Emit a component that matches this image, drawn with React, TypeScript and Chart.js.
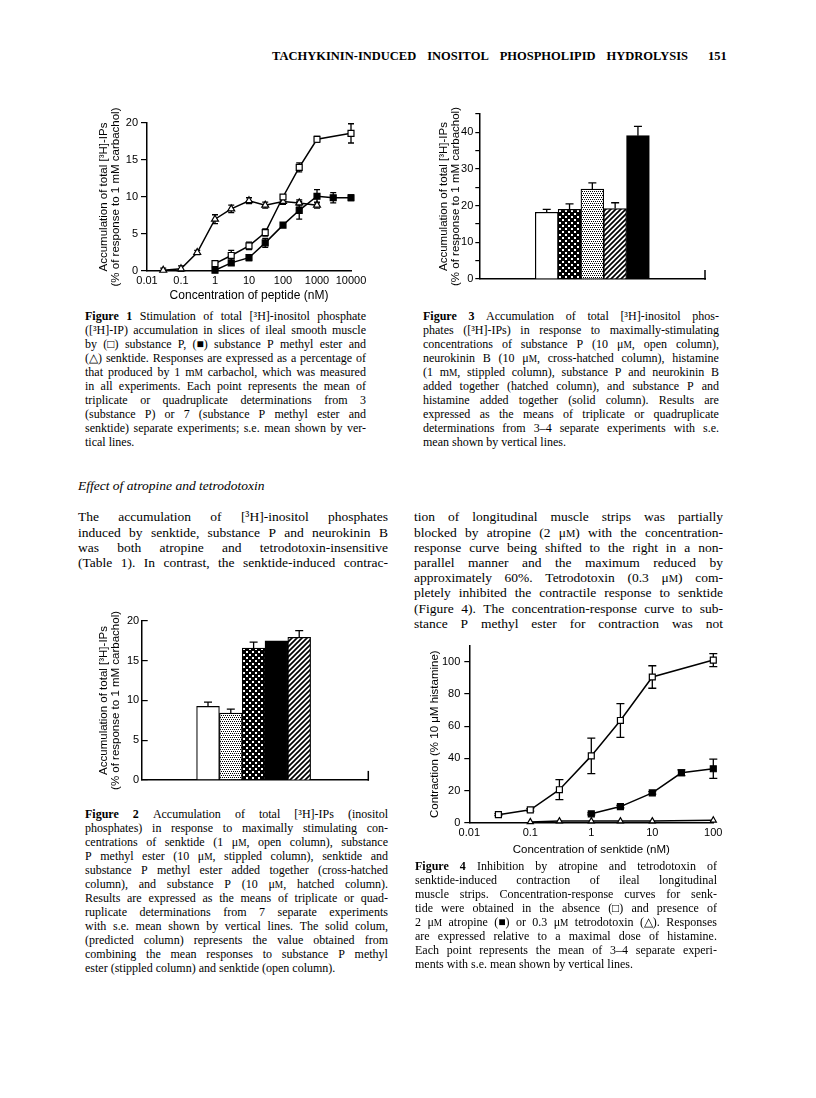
import React, { useEffect, useRef } from 'react';
import { Chart, registerables } from 'chart.js';

const SANS = '"Liberation Sans", Arial, Helvetica, sans-serif';
const SERIF = '"Liberation Serif", "Times New Roman", serif';

Chart.register(...registerables);
Chart.defaults.color = '#000';
Chart.defaults.font.family = SANS;

// ---------------- Figure 1 data ----------------
const fig1XTicks = [0.01, 0.1, 1, 10, 100, 1000, 10000];
const fig1XLabels = ['0.01', '0.1', '1', '10', '100', '1000', '10000'];
const fig1YTicks = [0, 5, 10, 15, 20];
const fig1SpConc = [1, 3, 10, 30, 100, 300, 1000, 10000];
const fig1SpMean = [1.0, 2.1, 3.4, 5.2, 10.0, 14.0, 17.8, 18.6];
const fig1SpSem = [0.2, 0.7, 0.5, 0.5, 0.3, 0.6, 0.4, 1.3];
const fig1SpmeConc = [1, 3, 10, 30, 100, 300, 1000, 3000, 10000];
const fig1SpmeMean = [0.1, 1.1, 1.8, 3.8, 6.2, 8.2, 10.1, 9.9, 9.9];
const fig1SpmeSem = [0.1, 0.3, 0.4, 0.6, 0.3, 1.2, 0.9, 0.7, 0.4];
const fig1SenkConc = [0.03, 0.1, 0.3, 1, 3, 10, 30, 100, 300, 1000];
const fig1SenkMean = [0.1, 0.3, 2.5, 7.0, 8.4, 9.5, 8.9, 9.4, 9.2, 8.9];
const fig1SenkSem = [0.3, 0.4, 0.3, 0.6, 0.5, 0.4, 0.4, 0.4, 0.4, 0.4];

// ---------------- Figure 2 data ----------------
const fig2Groups = ['Senktide', 'SP methyl ester', 'Senktide + SP methyl ester', 'Predicted', 'Substance P'];
const fig2Means = [9.25, 8.4, 16.6, 17.5, 17.95];
const fig2Sems = [0.55, 0.5, 0.75, 0, 0.85];
const fig2Fills = ['open', 'stippled', 'cross', 'solid', 'hatched'];
const fig2YTicks = [0, 5, 10, 15, 20];

// ---------------- Figure 3 data ----------------
const fig3Groups = ['Substance P', 'Neurokinin B', 'Histamine', 'SP + NKB', 'SP + histamine'];
const fig3Means = [18.2, 19.0, 24.5, 19.2, 39.1];
const fig3Sems = [0.8, 1.5, 1.7, 1.6, 2.5];
const fig3Fills = ['open', 'cross', 'stippled', 'hatched', 'solid'];
const fig3YTicks = [0, 5, 10, 15, 20, 25, 30, 35, 40, 45];

// ---------------- Figure 4 data ----------------
const fig4XTicks = [0.01, 0.1, 1, 10, 100];
const fig4XLabels = ['0.01', '0.1', '1', '10', '100'];
const fig4YTicks = [0, 20, 40, 60, 80, 100];
const fig4CtrlConc = [0.03, 0.1, 0.3, 1, 3, 10, 100];
const fig4CtrlMean = [5, 8, 20.5, 41.5, 63.5, 90.5, 101];
const fig4CtrlSem = [0.6, 0.8, 6.2, 11, 10.5, 7, 4];
const fig4AtrConc = [1, 3, 10, 30, 100];
const fig4AtrMean = [5.5, 10, 18.5, 31, 33.5];
const fig4AtrSem = [0.6, 0.8, 0.8, 1.8, 6];
const fig4TtxConc = [0.1, 0.3, 1, 3, 10, 100];
const fig4TtxMean = [0.5, 1, 1, 1, 1, 1.5];

// ---------------- plugins ----------------
function drawErr(chart: any, type: string) {
  if (chart.config.type !== type) return;
  const ctx = chart.ctx;
  chart.data.datasets.forEach((ds: any, i: number) => {
    const errs = ds.errors;
    if (!errs) return;
    const meta = chart.getDatasetMeta(i);
    const ys = chart.scales[meta.yAxisID];
    const cap = ds.capHalf ?? 3;
    ctx.save();
    ctx.strokeStyle = '#000';
    ctx.lineWidth = 1.3;
    meta.data.forEach((el: any, j: number) => {
      const e = errs[j];
      if (!e) return;
      const raw = ds.data[j];
      const v = typeof raw === 'object' ? raw.y : raw;
      const top = ys.getPixelForValue(v + e);
      const bot = type === 'bar' ? el.y : ys.getPixelForValue(Math.max(v - e, 0));
      ctx.beginPath();
      ctx.moveTo(el.x, top);
      ctx.lineTo(el.x, bot);
      ctx.moveTo(el.x - cap, top);
      ctx.lineTo(el.x + cap, top);
      if (type !== 'bar') {
        ctx.moveTo(el.x - cap, bot);
        ctx.lineTo(el.x + cap, bot);
      }
      ctx.stroke();
    });
    ctx.restore();
  });
}

const errorBars = {
  id: 'errorBars',
  beforeDatasetsDraw(chart: any) { drawErr(chart, 'line'); },
  afterDatasetsDraw(chart: any) { drawErr(chart, 'bar'); },
};

const endTick = {
  id: 'endTick',
  afterDraw(chart: any, _args: any, opts: any) {
    if (!opts || !opts.length) return;
    const { right, bottom } = chart.chartArea;
    const ctx = chart.ctx;
    ctx.save();
    ctx.strokeStyle = '#000';
    ctx.lineWidth = 1.5;
    ctx.beginPath();
    ctx.moveTo(right, bottom + 0.75);
    ctx.lineTo(right, bottom - opts.length);
    ctx.stroke();
    ctx.restore();
  },
};

function makePattern(kind: string): any {
  if (kind === 'open') return '#fff';
  if (kind === 'solid') return '#000';
  const c = document.createElement('canvas');
  const g = c.getContext('2d')!;
  if (kind === 'cross') {
    c.width = 6; c.height = 6;
    g.fillStyle = '#000'; g.fillRect(0, 0, 6, 6);
    g.fillStyle = '#fff'; g.fillRect(1, 1, 2, 2); g.fillRect(4, 4, 2, 2);
  } else if (kind === 'stippled') {
    c.width = 4; c.height = 4;
    g.fillStyle = '#fff'; g.fillRect(0, 0, 4, 4);
    g.fillStyle = '#000';
    g.fillRect(0, 0, 1, 1); g.fillRect(2, 0, 1, 1);
    g.fillRect(1, 2, 1, 1); g.fillRect(3, 2, 1, 1);
  } else if (kind === 'hatched') {
    c.width = 5; c.height = 5;
    g.fillStyle = '#fff'; g.fillRect(0, 0, 5, 5);
    g.strokeStyle = '#000'; g.lineWidth = 1.7;
    g.beginPath();
    g.moveTo(0, 5); g.lineTo(5, 0);
    g.moveTo(-1, 1); g.lineTo(1, -1);
    g.moveTo(4, 6); g.lineTo(6, 4);
    g.stroke();
  }
  return g.createPattern(c, 'repeat');
}

function lineDs(label: string, xs: number[], ys: number[], errs: number[] | null, style: string, fill: string, r: number, capHalf: number) {
  return {
    label,
    data: xs.map((x, i) => ({ x, y: ys[i] })),
    errors: errs,
    capHalf,
    borderColor: '#000',
    borderWidth: 1.5,
    pointStyle: style,
    pointRadius: r,
    pointBackgroundColor: fill,
    pointBorderColor: '#000',
    pointBorderWidth: 1.2,
    clip: false,
    tension: 0,
    fill: false,
  };
}

const tickFont = { family: SANS, size: 11 };
const blackBorder = { display: true, color: '#000', width: 1.5 };

function yTitle(text: any, size: number, padTop: number) {
  return { display: true, text, color: '#000', font: { family: SANS, size, lineHeight: 1.05 }, padding: { top: padTop, bottom: 0 } };
}

function baseOptions(padding: any) {
  return {
    responsive: false,
    animation: false,
    events: [],
    layout: { padding },
    plugins: { legend: { display: false }, tooltip: { enabled: false } },
  };
}

function makeFig1() {
  return {
    type: 'line',
    data: {
      datasets: [
        lineDs('Substance P', fig1SpConc, fig1SpMean, fig1SpSem, 'rect', '#fff', 4.2, 3),
        lineDs('Substance P methyl ester', fig1SpmeConc, fig1SpmeMean, fig1SpmeSem, 'rect', '#000', 4.2, 3),
        lineDs('Senktide', fig1SenkConc, fig1SenkMean, fig1SenkSem, 'triangle', '#fff', 4, 3),
      ],
    },
    options: {
      ...baseOptions({ top: 28, right: 19, left: 0, bottom: 0 }),
      scales: {
        x: {
          type: 'logarithmic', min: 0.01, max: 10000,
          afterBuildTicks: (s: any) => { s.ticks = fig1XTicks.map((value) => ({ value })); },
          afterFit: (s: any) => { s.height = 32; },
          grid: { display: false, drawTicks: false },
          border: blackBorder,
          ticks: { color: '#000', font: tickFont, padding: 3, maxRotation: 0, autoSkip: false, callback: (_v: any, i: number) => fig1XLabels[i] },
          title: { display: true, text: 'Concentration of peptide (nM)', color: '#000', font: { family: SANS, size: 12, lineHeight: 1.2 }, padding: { top: 0, bottom: 0 } },
        },
        y: {
          min: 0, max: 20,
          afterBuildTicks: (s: any) => { s.ticks = fig1YTicks.map((value) => ({ value })); },
          afterFit: (s: any) => { s.width = 67; },
          grid: { display: true, drawOnChartArea: false, drawTicks: true, tickLength: 6, color: '#000', lineWidth: 1.2 },
          border: blackBorder,
          ticks: { color: '#000', font: tickFont, padding: 3 },
          title: yTitle(['Accumulation of total [³H]-IPs', '(% of response to 1 mM carbachol)'], 11.5, 18),
        },
      },
    },
    plugins: [errorBars],
  };
}

function barConfig(groups: string[], means: number[], sems: number[], fills: string[], yTicks: number[], opt: any) {
  return {
    type: 'bar',
    data: {
      datasets: [{
        label: 'mean',
        data: means.map((y, i) => ({ x: i + 1, y, name: groups[i] })),
        errors: sems,
        capHalf: 4,
        backgroundColor: fills.map(makePattern),
        borderColor: '#000',
        borderWidth: 1.2,
        barPercentage: 1,
        categoryPercentage: 1,
      }],
    },
    options: {
      ...baseOptions(opt.padding),
      scales: {
        x: {
          type: 'linear', min: opt.xMin, max: opt.xMax, offset: false,
          afterFit: (s: any) => { s.height = opt.xHeight; },
          grid: { display: false, drawTicks: false, offset: false },
          border: blackBorder,
          ticks: { display: false },
        },
        y: {
          min: 0, max: opt.yMax,
          afterBuildTicks: (s: any) => { s.ticks = yTicks.map((value) => ({ value })); },
          afterFit: (s: any) => { s.width = opt.yWidth; },
          grid: { display: true, drawOnChartArea: false, drawTicks: true, tickLength: opt.tickLength, color: '#000', lineWidth: 1.2 },
          border: blackBorder,
          ticks: { color: '#000', font: tickFont, padding: opt.tickPad, callback: (v: any) => (v % opt.labelEvery === 0 ? String(v) : '') },
          title: yTitle(['Accumulation of total [³H]-IPs', '(% of response to 1 mM carbachol)'], 11.5, opt.titlePad),
        },
      },
      plugins: { legend: { display: false }, tooltip: { enabled: false }, endTick: { length: 9 } },
    },
    plugins: [errorBars, endTick],
  };
}

function makeFig2() {
  return barConfig(fig2Groups, fig2Means, fig2Sems, fig2Fills, fig2YTicks, {
    padding: { top: 16, right: 11.7, left: 0, bottom: 0 },
    xMin: -1.908, xMax: 8.03, xHeight: 11.7, yWidth: 61.7, yMax: 20,
    tickLength: -6, tickPad: 8.5, labelEvery: 5, titlePad: 18,
  });
}

function makeFig3() {
  return barConfig(fig3Groups, fig3Means, fig3Sems, fig3Fills, fig3YTicks, {
    padding: { top: 19, right: 15, left: 0, bottom: 0 },
    xMin: -1.956, xMax: 7.94, xHeight: 11, yWidth: 59.3, yMax: 45,
    tickLength: 4, tickPad: 2, labelEvery: 10, titlePad: 18,
  });
}

function makeFig4() {
  return {
    type: 'line',
    data: {
      datasets: [
        lineDs('Control', fig4CtrlConc, fig4CtrlMean, fig4CtrlSem, 'rect', '#fff', 4.2, 4),
        lineDs('Atropine 2 μM', fig4AtrConc, fig4AtrMean, fig4AtrSem, 'rect', '#000', 4.2, 4),
        lineDs('Tetrodotoxin 0.3 μM', fig4TtxConc, fig4TtxMean, null, 'triangle', '#fff', 3.5, 4),
      ],
    },
    options: {
      ...baseOptions({ top: 15.6, right: 16.7, left: 0, bottom: 0 }),
      scales: {
        x: {
          type: 'logarithmic', min: 0.01, max: 100,
          afterBuildTicks: (s: any) => { s.ticks = fig4XTicks.map((value) => ({ value })); },
          afterFit: (s: any) => { s.height = 42.3; },
          grid: { display: false, drawTicks: false },
          border: blackBorder,
          ticks: { color: '#000', font: tickFont, padding: 4, maxRotation: 0, autoSkip: false, callback: (_v: any, i: number) => fig4XLabels[i] },
          title: { display: true, text: 'Concentration of senktide (nM)', color: '#000', font: { family: SANS, size: 11.5, lineHeight: 1.2 }, padding: { top: 0, bottom: 8 } },
        },
        y: {
          min: 0, max: 110,
          afterBuildTicks: (s: any) => { s.ticks = fig4YTicks.map((value) => ({ value })); },
          afterFit: (s: any) => { s.width = 49.3; },
          grid: { display: true, drawOnChartArea: false, drawTicks: true, tickLength: 5, color: '#000', lineWidth: 1.2 },
          border: blackBorder,
          ticks: { color: '#000', font: tickFont, padding: 4 },
          title: yTitle('Contraction (% 10 μM histamine)', 11.5, 8.4),
        },
      },
    },
    plugins: [errorBars],
  };
}

function ChartBox({ left, top, width, height, make }: any) {
  const ref = useRef<HTMLCanvasElement>(null);
  useEffect(() => {
    const chart = new Chart(ref.current as HTMLCanvasElement, make());
    return () => chart.destroy();
  }, []);
  return <canvas ref={ref} width={width} height={height} style={{ position: 'absolute', left, top, width, height }} />;
}

// ---------------- text ----------------
function renderToken(tok: string, key: number) {
  const parts: any[] = [];
  let bold = false;
  let small = false;
  let buf = '';
  const flush = () => {
    if (buf) {
      parts.push(<span key={parts.length} style={{ fontWeight: bold ? 'bold' : undefined, fontSize: small ? '0.78em' : undefined }}>{buf}</span>);
      buf = '';
    }
  };
  for (const ch of tok) {
    if (ch === '*') { flush(); bold = !bold; }
    else if (ch === '~') { flush(); small = !small; }
    else buf += ch;
  }
  flush();
  return <span key={key}>{parts}</span>;
}

function Para({ x, y, w, size, lh, lines, justifyLast = false, italic = false, bold = false }: any) {
  return (
    <>
      {lines.map((t: string, i: number) => {
        const justify = i < lines.length - 1 || justifyLast;
        const toks = t.split(' ').filter(Boolean);
        const style: any = {
          position: 'absolute', left: x, top: y + i * lh - lh / 2, width: w, height: lh,
          lineHeight: lh + 'px', fontFamily: SERIF, fontSize: size, whiteSpace: 'nowrap', color: '#000',
          fontStyle: italic ? 'italic' : 'normal', fontWeight: bold ? 'bold' : 'normal',
        };
        if (justify) {
          return <div key={i} style={{ ...style, display: 'flex', justifyContent: 'space-between' }}>{toks.map((k, j) => renderToken(k, j))}</div>;
        }
        return (
          <div key={i} style={style}>
            {toks.map((k, j) => <React.Fragment key={j}>{j > 0 ? ' ' : ''}{renderToken(k, j)}</React.Fragment>)}
          </div>
        );
      })}
    </>
  );
}

const headerLines = ['TACHYKININ-INDUCED INOSITOL PHOSPHOLIPID HYDROLYSIS'];

const fig1Caption = [
  '*Figure* *1* Stimulation of total [³H]-inositol phosphate',
  '([³H]-IP) accumulation in slices of ileal smooth muscle',
  'by (□) substance P, (■) substance P methyl ester and',
  '(△) senktide. Responses are expressed as a percentage of',
  'that produced by 1 m~M~ carbachol, which was measured',
  'in all experiments. Each point represents the mean of',
  'triplicate or quadruplicate determinations from 3',
  '(substance P) or 7 (substance P methyl ester and',
  'senktide) separate experiments; s.e. mean shown by ver-',
  'tical lines.',
];

const fig3Caption = [
  '*Figure* *3* Accumulation of total [³H]-inositol phos-',
  'phates ([³H]-IPs) in response to maximally-stimulating',
  'concentrations of substance P (10 μ~M~, open column),',
  'neurokinin B (10 μ~M~, cross-hatched column), histamine',
  '(1 m~M~, stippled column), substance P and neurokinin B',
  'added together (hatched column), and substance P and',
  'histamine added together (solid column). Results are',
  'expressed as the means of triplicate or quadruplicate',
  'determinations from 3–4 separate experiments with s.e.',
  'mean shown by vertical lines.',
];

const leftBody = [
  'The accumulation of [³H]-inositol phosphates',
  'induced by senktide, substance P and neurokinin B',
  'was both atropine and tetrodotoxin-insensitive',
  '(Table 1). In contrast, the senktide-induced contrac-',
];

const rightBody = [
  'tion of longitudinal muscle strips was partially',
  'blocked by atropine (2 μ~M~) with the concentration-',
  'response curve being shifted to the right in a non-',
  'parallel manner and the maximum reduced by',
  'approximately 60%. Tetrodotoxin (0.3 μ~M~) com-',
  'pletely inhibited the contractile response to senktide',
  '(Figure 4). The concentration-response curve to sub-',
  'stance P methyl ester for contraction was not',
];

const fig2Caption = [
  '*Figure* *2* Accumulation of total [³H]-IPs (inositol',
  'phosphates) in response to maximally stimulating con-',
  'centrations of senktide (1 μ~M~, open column), substance',
  'P methyl ester (10 μ~M~, stippled column), senktide and',
  'substance P methyl ester added together (cross-hatched',
  'column), and substance P (10 μ~M~, hatched column).',
  'Results are expressed as the means of triplicate or quad-',
  'ruplicate determinations from 7 separate experiments',
  'with s.e. mean shown by vertical lines. The solid colum,',
  '(predicted column) represents the value obtained from',
  'combining the mean responses to substance P methyl',
  'ester (stippled column) and senktide (open column).',
];

const fig4Caption = [
  '*Figure* *4* Inhibition by atropine and tetrodotoxin of',
  'senktide-induced contraction of ileal longitudinal',
  'muscle strips. Concentration-response curves for senk-',
  'tide were obtained in the absence (□) and presence of',
  '2 μ~M~ atropine (■) or 0.3 μ~M~ tetrodotoxin (△). Responses',
  'are expressed relative to a maximal dose of histamine.',
  'Each point represents the mean of 3–4 separate experi-',
  'ments with s.e. mean shown by vertical lines.',
];

export default function App() {
  return (
    <div style={{ position: 'absolute', left: 0, top: 0, width: 816, height: 1098, background: '#fff', overflow: 'hidden' }}>
      <Para x={272} y={56} w={416} size={12.5} lh={15} lines={headerLines} justifyLast bold />
      <Para x={708} y={56} w={24} size={12.5} lh={15} lines={['151']} bold />

      <ChartBox left={80} top={95} width={290} height={208} make={makeFig1} />
      <ChartBox left={420} top={95} width={300} height={195} make={makeFig3} />

      <Para x={85} y={316} w={281} size={12} lh={14} lines={fig1Caption} />
      <Para x={423} y={316} w={296} size={12} lh={14} lines={fig3Caption} />

      <Para x={78} y={486} w={300} size={13.5} lh={16} lines={['Effect of atropine and tetrodotoxin']} italic />
      <Para x={78} y={517} w={310} size={13.5} lh={15.2} lines={leftBody} justifyLast />
      <Para x={414} y={517} w={309} size={13.5} lh={15.2} lines={rightBody} justifyLast />

      <ChartBox left={80} top={605} width={300} height={190} make={makeFig2} />
      <ChartBox left={420} top={630} width={310} height={235} make={makeFig4} />

      <Para x={85} y={814} w={303} size={12} lh={14} lines={fig2Caption} />
      <Para x={415} y={866} w={302} size={12} lh={14} lines={fig4Caption} />
    </div>
  );
}
